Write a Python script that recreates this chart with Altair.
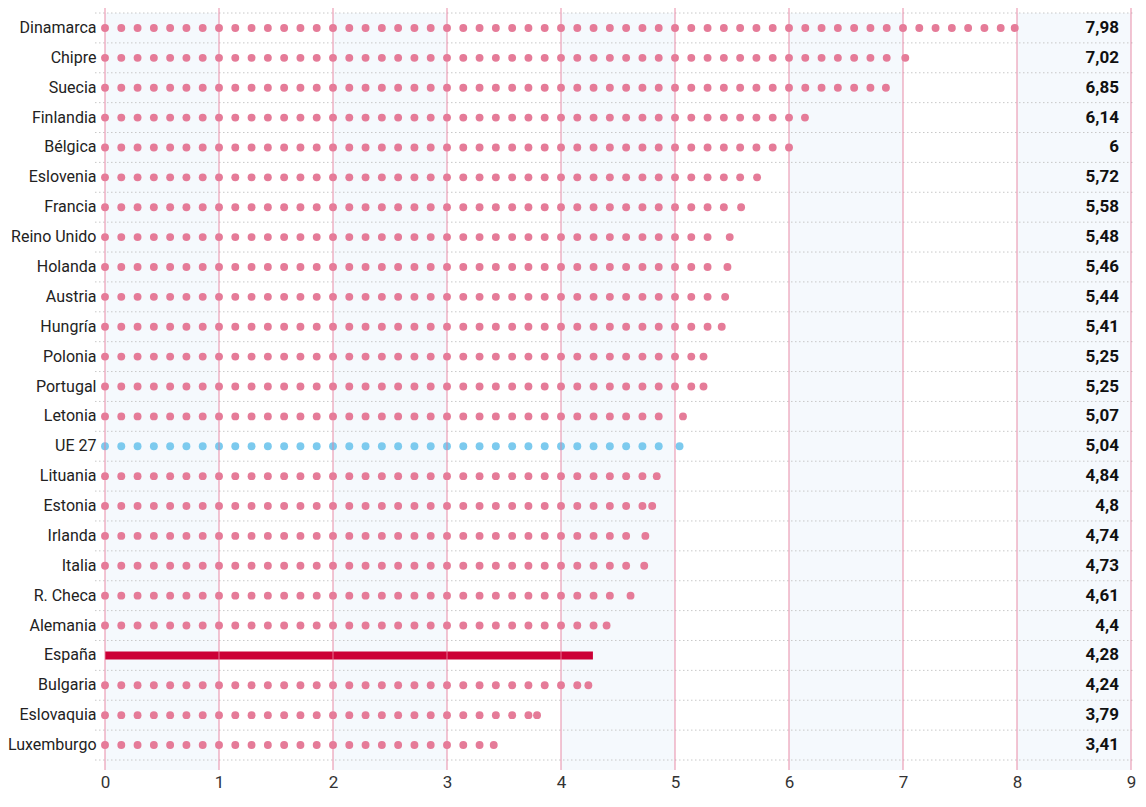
import altair as alt
import pandas as pd

countries = ["Dinamarca", "Chipre", "Suecia", "Finlandia", "Bélgica", "Eslovenia", "Francia",
             "Reino Unido", "Holanda", "Austria", "Hungría", "Polonia", "Portugal", "Letonia",
             "UE 27", "Lituania", "Estonia", "Irlanda", "Italia", "R. Checa", "Alemania",
             "España", "Bulgaria", "Eslovaquia", "Luxemburgo"]
values = [7.98, 7.02, 6.85, 6.14, 6.00, 5.72, 5.58, 5.48, 5.46, 5.44, 5.41, 5.25, 5.25, 5.07,
          5.04, 4.84, 4.80, 4.74, 4.73, 4.61, 4.40, 4.28, 4.24, 3.79, 3.41]
eu_name = "UE 27"
bar_name = "España"
x_ticks = list(range(0, 10))
band_starts = [0, 2, 4, 6, 8]
row_edges = list(range(0, 26))

FONT = "Liberation Sans Narrow, Roboto, sans-serif"
W, H = 1026, 747
STEP = 1 / 7

# dot rows: dots every 1/7 unit and one final dot at the value
dot_rows = []
for c, v in zip(countries, values):
    if c == bar_name:
        continue
    grp = "eu" if c == eu_name else "country"
    k = 0
    while k * STEP < v - 0.075:
        dot_rows.append({"country": c, "pos": k * STEP, "grp": grp})
        k += 1
    dot_rows.append({"country": c, "pos": v, "grp": grp})
dots_df = pd.DataFrame(dot_rows)

main_df = pd.DataFrame({"country": countries, "value": values,
                        "label": [f"{v:g}".replace(".", ",") for v in values]})
bar_df = main_df[main_df["country"] == bar_name]
bands_df = pd.DataFrame({"start": band_starts, "end": [s + 1 for s in band_starts]})
ticks_df = pd.DataFrame({"t": x_ticks})
edges_df = pd.DataFrame({"b": row_edges})

xscale = alt.Scale(domain=[0, 9], nice=False, zero=False)
yscale = alt.Scale(domain=countries, paddingInner=0, paddingOuter=0)

x_axis = alt.Axis(values=x_ticks, labelFontSize=17, labelFont=FONT, labelColor="#333",
                  labelPadding=14, ticks=False, tickSize=0, domain=False, grid=False,
                  title=None, labelFlush=False)
y_axis = alt.Axis(labelFontSize=16, labelFont=FONT, labelColor="#222", labelPadding=9,
                  ticks=False, tickSize=0, domain=False, grid=False, title=None)

bands = alt.Chart(bands_df).mark_rect(color="#f5f9fd").encode(
    x=alt.X("start:Q", scale=xscale, axis=x_axis),
    x2="end:Q",
    y=alt.value(0),
    y2=alt.value(H + 10),
)

hlines = alt.Chart(edges_df).mark_rule(color="#c8c8c8", strokeDash=[1.5, 2.5], strokeWidth=1).encode(
    y=alt.Y("b:Q", scale=alt.Scale(domain=[0, 25], nice=False), axis=None),
    x=alt.value(-10),
    x2=alt.value(W + 2),
)

dots = alt.Chart(dots_df).mark_circle(size=62, opacity=1).encode(
    x=alt.X("pos:Q", scale=xscale, axis=x_axis),
    y=alt.Y("country:N", scale=yscale, sort=countries, axis=y_axis),
    color=alt.Color("grp:N", scale=alt.Scale(domain=["country", "eu"],
                                             range=["#e57b98", "#7ccaee"]), legend=None),
)

bar = alt.Chart(bar_df).mark_bar(height=8, color="#cc0036").encode(
    x=alt.X("value:Q", scale=xscale, axis=x_axis),
    x2=alt.datum(0),
    y=alt.Y("country:N", scale=yscale, sort=countries, axis=y_axis),
)

vlines = alt.Chart(ticks_df).mark_rule(color="#e7809d", strokeWidth=1, opacity=0.9).encode(
    x=alt.X("t:Q", scale=xscale, axis=x_axis),
    y=alt.value(-5),
    y2=alt.value(H + 10),
)

labels = alt.Chart(main_df).mark_text(align="right", baseline="middle", font=FONT,
                                      fontSize=17, fontWeight="bold", color="#111").encode(
    x=alt.value(W - 12),
    y=alt.Y("country:N", scale=yscale, sort=countries, axis=y_axis),
    text="label:N",
)

rows_layer = alt.layer(dots, bar, vlines, labels)

chart = alt.layer(bands, hlines, rows_layer).resolve_scale(y="independent").properties(
    width=W, height=H, background="white",
    autosize=alt.AutoSizeParams(type="none"),
    padding={"left": 97, "top": 5, "right": 7, "bottom": 34},
).configure_view(stroke=None)

chart.save("out.html", embed_options={"renderer": "svg", "actions": False})
